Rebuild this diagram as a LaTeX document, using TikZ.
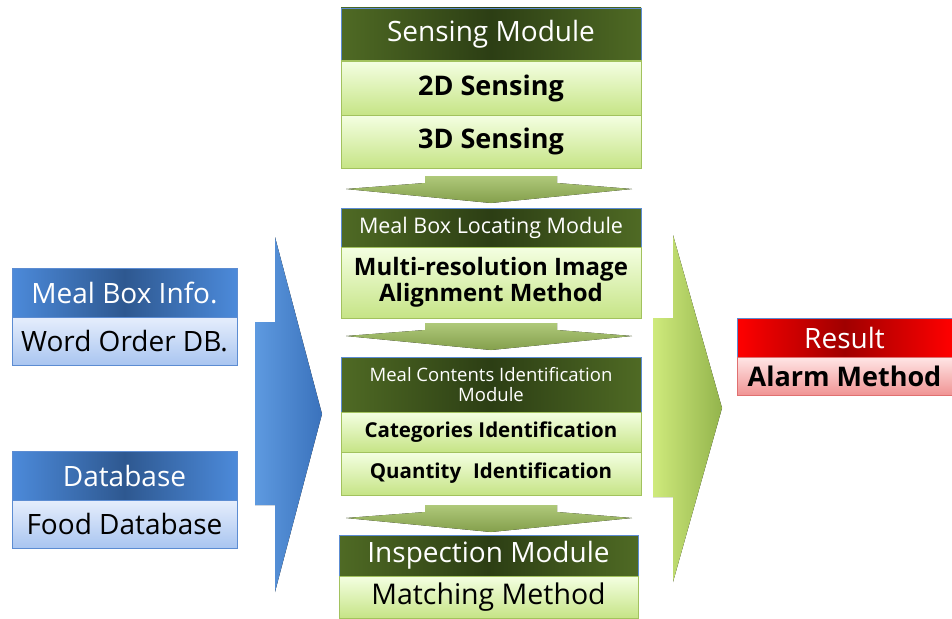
\documentclass[tikz,border=0pt]{standalone}
\usepackage{fontspec}
\setmainfont{Open Sans}
\usepackage{tikz}

\definecolor{grnedge}{HTML}{4F6A24}
\definecolor{grnmid}{HTML}{2C3E14}
\definecolor{grntop}{HTML}{F4FFE2}
\definecolor{grnbot}{HTML}{C6E486}
\definecolor{grnline}{HTML}{A2C25E}
\definecolor{bluedge}{HTML}{4C8ADA}
\definecolor{blumid}{HTML}{2E5890}
\definecolor{blutop}{HTML}{E6EEFC}
\definecolor{blubot}{HTML}{A9C5F0}
\definecolor{bluline}{HTML}{5C8CD2}
\definecolor{rededge}{HTML}{FF0000}
\definecolor{redmid}{HTML}{A00000}
\definecolor{redtop}{HTML}{FFE6E6}
\definecolor{redbot}{HTML}{F09494}
\definecolor{redline}{HTML}{E07070}
\definecolor{arrgrn}{HTML}{9BBB59}
\definecolor{bigblul}{HTML}{5E9AE0}
\definecolor{bigblur}{HTML}{3A72BC}
\definecolor{biggrnl}{HTML}{CFEA7C}
\definecolor{biggrnr}{HTML}{93B44C}

\newcommand{\fsz}[1]{\fontsize{#1}{#1}\selectfont}

\begin{document}
\begin{tikzpicture}
  [x=1pt, y=-1pt,
   box/.style={rectangle, inner sep=0pt},
   ghead/.style={box, minimum width=300pt, text=white, draw=bluline, line width=.7pt,
     left color=grnedge, right color=grnedge, middle color=grnmid},
   gbody/.style={box, minimum width=300pt, draw=grnline, line width=1pt,
     top color=grntop, bottom color=grnbot},
   bhead/.style={box, minimum width=225pt, text=white, draw=bluline, line width=.7pt,
     left color=bluedge, right color=bluedge, middle color=blumid},
   bbody/.style={box, minimum width=225pt, draw=bluline, line width=1pt,
     top color=blutop, bottom color=blubot},
   rhead/.style={box, minimum width=215pt, text=white, draw=bluline, line width=.7pt,
     left color=rededge, right color=rededge, middle color=redmid},
   rbody/.style={box, minimum width=215pt, draw=redline, line width=1pt,
     top color=redtop, bottom color=redbot},
   downarr/.style={top color=arrgrn!80!white, bottom color=arrgrn!85!black, draw=none}]
  \useasboundingbox (0,0) rectangle (952,618);

  % centre column
  \node[ghead, minimum height=53pt] (sens) at (491,34.5) {\fsz{28}Sensing Module};
  \node[gbody, minimum height=54pt] (s2d) at (491,88) {\fsz{27}\bfseries 2D Sensing};
  \node[gbody, minimum height=53pt] (s3d) at (491,141.5) {\fsz{27}\bfseries 3D Sensing};

  \node[ghead, minimum height=39pt] (loc) at (491,227.5) {\fsz{21.5}Meal Box Locating Module};
  \node[gbody, minimum height=71pt, align=center] (align) at (491,282.5)
    {\fsz{24}\bfseries Multi-resolution Image\\[1pt]\fsz{24}\bfseries Alignment Method};

  \node[ghead, minimum height=55pt, align=center] (ident) at (491,384.5)
    {\fsz{18.5}Meal Contents Identification\\[4pt]\fsz{18.5}Module};
  \node[gbody, minimum height=40pt] (cat) at (491,432) {\fsz{20.5}\bfseries Categories Identification};
  \node[gbody, minimum height=43pt] (qty) at (491,473.5) {\fsz{20.5}\bfseries Quantity\hspace{12pt}Identification};

  \node[ghead, minimum width=299pt, minimum height=41pt] (insp) at (488.5,555.5) {\fsz{28}Inspection Module};
  \node[gbody, minimum width=299pt, minimum height=42pt] (match) at (488.5,597) {\fsz{28.5}Matching Method};

  % left column
  \node[bhead, minimum height=49pt] (info) at (124.5,292.5) {\fsz{28}Meal Box Info.};
  \node[bbody, minimum height=48pt] (order) at (124.5,341) {\fsz{28}Word Order DB.};
  \node[bhead, minimum height=49pt] (dbase) at (124.5,475.5) {\fsz{28}Database};
  \node[bbody, minimum height=48pt] (food) at (124.5,524) {\fsz{28}Food Database};

  % result
  \node[rhead, minimum height=39pt] (res) at (844.5,337.5) {\fsz{28}Result};
  \node[rbody, minimum height=38pt] (alarm) at (844.5,376) {\fsz{27}\bfseries Alarm Method};

  % arrows between modules
  \foreach \ay in {176,323,505}
    \fill[downarr] (425,\ay) -- (557,\ay) -- (557,\ay+7) -- (632,\ay+13) -- (491,\ay+27)
      -- (346,\ay+13) -- (425,\ay+7) -- cycle;

  % big side arrows
  \fill[left color=bigblul, right color=bigblur]
    (275,237) -- (322,414) -- (275,592) -- (275,505) -- (255,505) -- (255,322) -- (275,322) -- cycle;
  \fill[left color=biggrnl, right color=biggrnr]
    (673,235) -- (722,408) -- (673,582) -- (673,497) -- (653,497) -- (653,318) -- (673,318) -- cycle;
\end{tikzpicture}
\end{document}
